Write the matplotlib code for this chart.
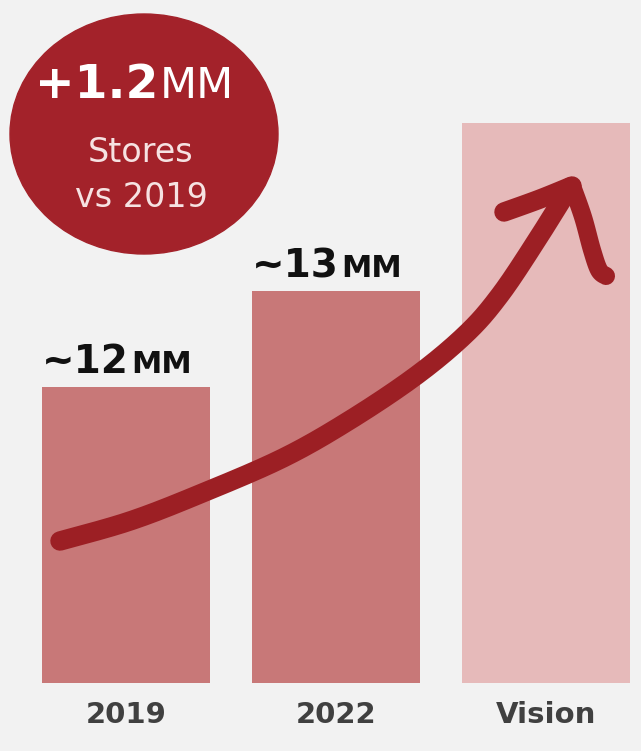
import matplotlib
matplotlib.use("Agg")
import matplotlib.pyplot as plt
from matplotlib.patches import Ellipse
import numpy as np

# --- data -------------------------------------------------------------
categories = ["2019", "2022", "Vision"]
store_counts = [12.0, 13.0, 14.75]          # millions of stores
value_labels = ["~12", "~13", None]
bar_colors = ["#c87878", "#c87878", "#e6baba"]
badge_main = "+1.2"
badge_unit = "MM"
badge_lines = ["Stores", "vs 2019"]

# --- style ------------------------------------------------------------
BG = "#f2f2f2"
RED = "#a3222a"
ARROW = "#9c1f24"
plt.rcParams["font.family"] = ["DejaVu Sans"]

W, H, DPI = 641, 751, 100
fig = plt.figure(figsize=(W / DPI, H / DPI), dpi=DPI, facecolor=BG)

# bar axes: baseline sits 68 px above the bottom edge
base = 8.9167
ax = fig.add_axes([0, 68 / H, 1, 683 / H])
ax.set_facecolor(BG)
x = np.arange(len(categories))
ax.bar(x, np.array(store_counts) - base, bottom=base, width=0.8,
       color=bar_colors, zorder=2)
ax.set_xlim(-0.6, 2.452)
ax.set_ylim(base, base + 683 / 96)
for s in ax.spines.values():
    s.set_visible(False)
ax.set_yticks([])
ax.set_xticks(x)
ax.set_xticklabels(categories, fontsize=21, fontweight="bold", color="#404040")
ax.tick_params(axis="x", length=0, pad=13)

# value labels above bars: number plus smaller unit
for xi, val, lab in zip(x, store_counts, value_labels):
    if lab is None:
        continue
    ax.annotate(lab, xy=(xi, val), xytext=(2, 10), textcoords="offset points",
                ha="right", va="baseline", fontsize=28, fontweight="bold",
                color="#111111", zorder=5)
    ax.annotate("MM", xy=(xi, val), xytext=(3.5, 10), textcoords="offset points",
                ha="left", va="baseline", fontsize=22, fontweight="bold",
                color="#111111", zorder=5)

# overlay in pixel space for the badge and the hand-drawn arrow
ov = fig.add_axes([0, 0, 1, 1], facecolor="none")
ov.set_xlim(0, W)
ov.set_ylim(H, 0)
ov.axis("off")

ov.add_patch(Ellipse((144, 134), 268, 240, color=RED, zorder=3))
ov.text(158, 98, badge_main, ha="right", va="baseline", fontsize=34,
        fontweight="bold", color="white", zorder=4)
ov.text(160, 98, badge_unit, ha="left", va="baseline", fontsize=31,
        color="white", zorder=4)
ov.text(141, 162, badge_lines[0], ha="center", va="baseline", fontsize=24,
        color="#f6e2e2", zorder=4)
ov.text(141, 207, badge_lines[1], ha="center", va="baseline", fontsize=24,
        color="#f6e2e2", zorder=4)


def smooth(pts, n=30):
    """Catmull-Rom spline through the given stroke points."""
    p = np.asarray(pts, float)
    p = np.vstack([p[0], p, p[-1]])
    out = []
    for i in range(1, len(p) - 2):
        p0, p1, p2, p3 = p[i - 1], p[i], p[i + 1], p[i + 2]
        t = np.linspace(0, 1, n)[:, None]
        out.append(0.5 * ((2 * p1) + (-p0 + p2) * t
                          + (2 * p0 - 5 * p1 + 4 * p2 - p3) * t ** 2
                          + (-p0 + 3 * p1 - 3 * p2 + p3) * t ** 3))
    return np.vstack(out)


shaft = smooth([(60, 541), (130, 521), (200, 494), (283, 458), (350, 420),
                (417, 375), (467, 333), (500, 295), (535, 243), (570, 187)])
arm = smooth([(504, 212), (540, 199), (572, 186)])
hook = smooth([(572, 186), (583, 217), (592, 250), (599, 270), (606, 276)])
for seg, lw in ((shaft, 14), (arm, 14), (hook, 13)):
    ov.plot(seg[:, 0], seg[:, 1], color=ARROW, lw=lw,
            solid_capstyle="round", solid_joinstyle="round", zorder=6)

fig.savefig("out.png", dpi=DPI, facecolor=BG)
